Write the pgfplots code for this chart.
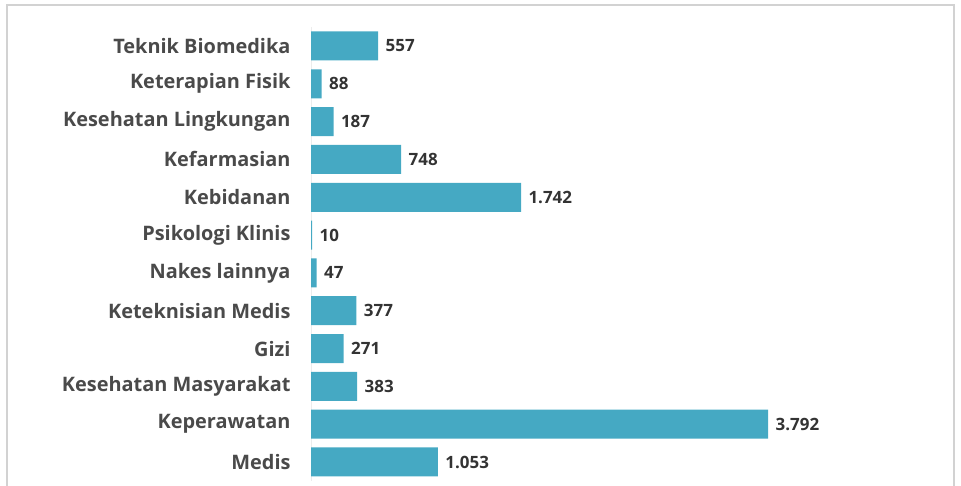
\documentclass[border=0pt]{standalone}
\usepackage{pgfplots}
\pgfplotsset{compat=1.18}
\usepackage{fontspec}
\setmainfont{Open Sans}
\definecolor{barc}{HTML}{45A9C3}
\definecolor{lblc}{HTML}{4A4A4A}
\definecolor{valc}{HTML}{333333}
\begin{document}
\begin{tikzpicture}[x=1bp,y=1bp]
\useasboundingbox (0,0) rectangle (961,486);
\draw[gray!35, line width=1.2bp] (7,0) -- (7,481) -- (954,481) -- (954,0);
\begin{axis}[
  at={(311bp,5.1bp)}, anchor=south west,
  scale only axis, width=639bp, height=453.8bp,
  xbar, bar width=29bp,
  xmin=0, xmax=5300, ymin=-0.5, ymax=11.5,
  axis x line=none,
  axis y line*=left, y axis line style={draw=gray!15},
  ytick={0,...,11}, major tick length=0pt,
  yticklabels={Medis,Keperawatan,Kesehatan Masyarakat,Gizi,Keteknisian Medis,Nakes lainnya,Psikologi Klinis,Kebidanan,Kefarmasian,Kesehatan Lingkungan,Keterapian Fisik,Teknik Biomedika},
  yticklabel style={font=\fontsize{20}{22}\selectfont\bfseries, text=lblc, xshift=-17bp},
  nodes near coords,
  point meta=x,
  every node near coord/.append style={font=\fontsize{17}{19}\selectfont\bfseries, text=valc, anchor=west, xshift=4bp,
    /pgf/number format/.cd, 1000 sep={.}, assume math mode=true},
  clip=false,
]
\addplot[fill=barc, draw=none] coordinates {
(1053,0) (3792,1) (383,2) (271,3) (377,4) (47,5) (10,6) (1742,7) (748,8) (187,9) (88,10) (557,11)
};
\end{axis}
\end{tikzpicture}
\end{document}
